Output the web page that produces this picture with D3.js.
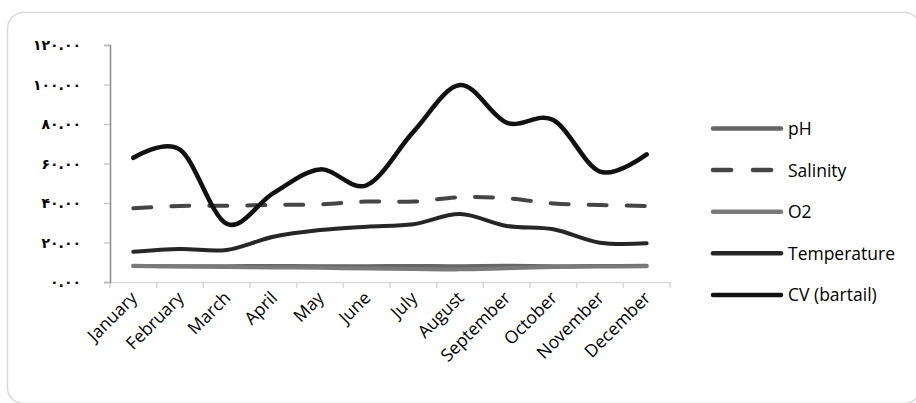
<!DOCTYPE html>
<html>
<head>
<meta charset="utf-8">
<script src="https://cdn.jsdelivr.net/npm/d3@7/dist/d3.min.js"></script>
<style>
  html, body { margin: 0; padding: 0; background: #fff; }
  svg { display: block; }
</style>
</head>
<body>
<svg id="chart" width="916" height="403"></svg>
<script>
const months = ["January","February","March","April","May","June","July","August","September","October","November","December"];
const yTicks = [0, 20, 40, 60, 80, 100, 120];
const yTickLabels = ["۰.۰۰","۲۰.۰۰","۴۰.۰۰","۶۰.۰۰","۸۰.۰۰","۱۰۰.۰۰","۱۲۰.۰۰"];
const pH = [8.1, 8.0, 8.0, 8.1, 8.0, 8.0, 8.1, 8.0, 8.2, 8.0, 8.1, 8.2];
const salinity = [37.3, 38.5, 38.6, 39.0, 39.3, 40.7, 40.7, 42.9, 42.4, 39.8, 39.0, 38.5];
const o2 = [8.2, 7.8, 7.6, 7.4, 7.2, 6.8, 6.6, 6.4, 7.0, 7.6, 7.8, 8.0];
const temperature = [15.3, 16.7, 16.2, 22.9, 26.3, 28.0, 29.2, 34.4, 28.4, 26.7, 19.9, 19.6];
const cv = [62.9, 67.0, 29.5, 45.0, 57.0, 49.0, 76.0, 99.7, 80.7, 82.0, 55.9, 64.6];

const series = [
  {name: "pH", values: pH, color: "#666666", width: 4, dash: null},
  {name: "Salinity", values: salinity, color: "#454545", width: 4, dash: "18,20"},
  {name: "O2", values: o2, color: "#7a7a7a", width: 4, dash: null},
  {name: "Temperature", values: temperature, color: "#262626", width: 4, dash: null},
  {name: "CV (bartail)", values: cv, color: "#111111", width: 4.5, dash: null}
];

const svg = d3.select("#chart");
const pLeft = 110, pRight = 670, pTop = 45, pBottom = 282;

// outer border
svg.append("rect").attr("x", 7.5).attr("y", 12.5).attr("width", 913).attr("height", 391)
  .attr("rx", 16).attr("fill", "#fff").attr("stroke", "#d9d9d9").attr("stroke-width", 1.5);

const x = d3.scaleBand().domain(months).range([pLeft, pRight]);
const y = d3.scaleLinear().domain([0, 120]).range([pBottom, pTop]);

// X axis
const xAxis = svg.append("g").attr("transform", `translate(0,${pBottom})`)
  .call(d3.axisBottom(x).tickSize(0).tickFormat(""));
xAxis.select(".domain").attr("stroke", "#d9d9d9").attr("stroke-width", 1.5);
const bounds = months.map(m => x(m)).concat([pRight]);
svg.append("g").selectAll("line").data(bounds).join("line")
  .attr("x1", d => d).attr("x2", d => d).attr("y1", pBottom).attr("y2", pBottom + 6)
  .attr("stroke", "#d9d9d9").attr("stroke-width", 1.5);

svg.append("g").selectAll("text").data(months).join("text")
  .attr("transform", d => `translate(${x(d) + x.bandwidth()/2 + 5},${pBottom + 17}) rotate(-45)`)
  .attr("text-anchor", "end")
  .attr("font-family", "Open Sans, sans-serif").attr("font-size", 17.5).attr("fill", "#000")
  .text(d => d);

// Y axis
const yAxis = svg.append("g").attr("transform", `translate(${pLeft},0)`)
  .call(d3.axisLeft(y).tickValues(yTicks).tickSize(6).tickFormat(""));
yAxis.select(".domain").attr("stroke", "#8c8c8c").attr("stroke-width", 1.5);
yAxis.selectAll(".tick line").attr("stroke", "#bfbfbf").attr("stroke-width", 1.2);
svg.append("g").selectAll("text").data(yTicks).join("text")
  .attr("x", 81).attr("y", d => y(d) + 5)
  .attr("text-anchor", "end").attr("direction", "ltr")
  .attr("font-family", "DejaVu Sans, sans-serif").attr("font-weight", "bold").attr("font-size", 14)
  .attr("letter-spacing", 2.2).attr("fill", "#000")
  .text((d, i) => yTickLabels[i]);

// Lines
const line = d3.line()
  .x((d, i) => x(months[i]) + x.bandwidth()/2)
  .y(d => y(d))
  .curve(d3.curveCardinal.tension(0));

svg.append("g").selectAll("path").data(series).join("path")
  .attr("d", d => line(d.values))
  .attr("fill", "none")
  .attr("stroke", d => d.color)
  .attr("stroke-width", d => d.width)
  .attr("stroke-linecap", "round")
  .attr("stroke-linejoin", "round")
  .attr("stroke-dasharray", d => d.dash);

// Legend
const lg = svg.append("g").selectAll("g").data(series).join("g")
  .attr("transform", (d, i) => `translate(0,${128.5 + i * 41.6})`);
lg.append("line").attr("x1", 713).attr("x2", 781).attr("y1", 0).attr("y2", 0)
  .attr("stroke", d => d.color).attr("stroke-width", 4.5).attr("stroke-linecap", "round")
  .attr("stroke-dasharray", d => d.dash ? "18,22" : null);
lg.append("text").attr("x", 788).attr("y", 6.5)
  .attr("font-family", "Open Sans, sans-serif").attr("font-size", 17.5).attr("fill", "#000")
  .text(d => d.name);
</script>
</body>
</html>
